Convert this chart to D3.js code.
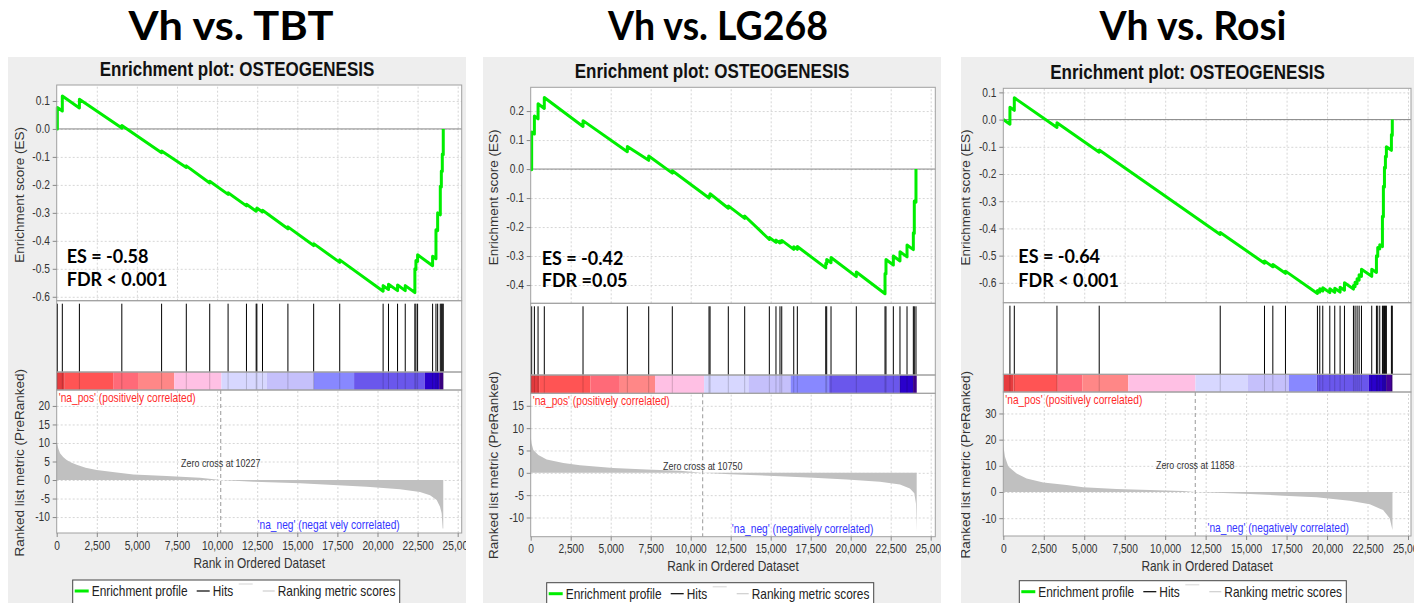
<!doctype html>
<html>
<head>
<meta charset="utf-8">
<title>Enrichment plots OSTEOGENESIS</title>
<script src="https://cdn.jsdelivr.net/npm/d3@7"></script>
<style>
html,body{margin:0;padding:0;background:#fff;}
svg{display:block;}
</style>
</head>
<body>
<svg id="chart" width="1428" height="603"></svg>
<script>
// values
var titles = ["Vh vs. TBT", "Vh vs. LG268", "Vh vs. Rosi"];
var plotTitle = "Enrichment plot: OSTEOGENESIS";
var esLabels = ["ES = -0.58", "ES = -0.42", "ES = -0.64"];
var fdrLabels = ["FDR < 0.001", "FDR =0.05", "FDR < 0.001"];
var zeroCross = [10227, 10750, 11858];
var negLabels = ["'na_neg' (negat vely correlated)", "'na_neg' (negatively correlated)", "'na_neg' (negatively correlated)"];
var posLabel = "'na_pos' (positively correlated)";

var rankTicks = [0, 2500, 5000, 7500, 10000, 12500, 15000, 17500, 20000, 22500, 25000];
var esTicks = [
  [0.1, 0, -0.1, -0.2, -0.3, -0.4, -0.5, -0.6],
  [0.2, 0.1, 0, -0.1, -0.2, -0.3, -0.4],
  [0.1, 0, -0.1, -0.2, -0.3, -0.4, -0.5, -0.6]
];
var esDomains = [[-0.614, 0.157], [-0.463, 0.282], [-0.673, 0.115]];
var metricTicks = [
  [20, 15, 10, 5, 0, -5, -10],
  [15, 10, 5, 0, -5, -10],
  [30, 20, 10, 0, -10]
];
var metricDomains = [[-14.3, 24.3], [-14.3, 17.8], [-16.8, 38.2]];

// hits (rank positions of gene set members)
var hits1 = [40, 350, 1415, 4060, 6540, 8080, 9540, 10685, 11830, 12435, 12480, 12830, 14415, 16020, 17645,
  20350, 20685, 21250, 21730, 22330, 22395, 22500, 23435, 23645, 23750, 23915, 23980, 24040, 24100];
var hits2 = [60, 230, 460, 850, 3270, 6040, 7375, 8850, 11145, 11210, 12350, 13375, 14915, 15330, 15580, 15690,
  16440, 16665, 18440, 18500, 18770, 20350, 22145, 22205, 22665, 23080, 23520, 23915, 23975, 24080];
var hits3 = [410, 680, 3315, 5925, 13400, 16135, 16650, 17430, 19405, 19550, 19735, 20170, 20475, 20805, 21075,
  21630, 21730, 21855, 21980, 22125, 22760, 23050, 23130, 23255, 23420, 23480, 23545, 23605, 23665, 23975, 24030];

// running enrichment score [rank, ES]
var es1 = [[0,0],[40,0],[40,0.077],[350,0.064],[350,0.118],[1415,0.075],[1415,0.106],[4060,0.003],[4060,0.012],
  [6540,-0.085],[6540,-0.079],[8080,-0.138],[8080,-0.132],[9540,-0.193],[9540,-0.187],[10685,-0.234],[10685,-0.228],
  [11830,-0.275],[11830,-0.269],[12435,-0.294],[12435,-0.288],[12480,-0.29],[12480,-0.283],[12830,-0.297],[12830,-0.291],
  [14415,-0.357],[14415,-0.35],[16020,-0.417],[16020,-0.41],[17645,-0.477],[17645,-0.468],[20350,-0.58],[20350,-0.56],
  [20685,-0.574],[20685,-0.555],[21250,-0.578],[21250,-0.558],[21730,-0.578],[21730,-0.56],[22330,-0.585],[22330,-0.5],
  [22395,-0.503],[22395,-0.47],[22500,-0.474],[22500,-0.45],[23435,-0.489],[23435,-0.455],[23645,-0.464],[23645,-0.36],
  [23750,-0.364],[23750,-0.3],[23915,-0.307],[23915,-0.205],[23980,-0.208],[23980,-0.15],[24040,-0.152],[24040,-0.09],
  [24100,-0.092],[24100,0]];
var es2 = [[0,0],[60,-0.002],[60,0.128],[230,0.121],[230,0.183],[460,0.173],[460,0.225],[850,0.209],[850,0.247],
  [3270,0.147],[3270,0.167],[6040,0.06],[6040,0.078],[7375,0.03],[7375,0.045],[8850,-0.014],[8850,-0.006],
  [11145,-0.1],[11145,-0.092],[11210,-0.095],[11210,-0.085],[12350,-0.135],[12350,-0.127],[13375,-0.17],[13375,-0.162],
  [14915,-0.243],[14915,-0.236],[15330,-0.253],[15330,-0.245],[15580,-0.255],[15580,-0.248],[15690,-0.253],[15690,-0.246],
  [16440,-0.277],[16440,-0.268],[16665,-0.277],[16665,-0.267],[18440,-0.341],[18440,-0.325],[18500,-0.327],[18500,-0.312],
  [18770,-0.323],[18770,-0.305],[20350,-0.371],[20350,-0.355],[22145,-0.43],[22145,-0.36],[22205,-0.362],[22205,-0.312],
  [22665,-0.331],[22665,-0.3],[23080,-0.317],[23080,-0.285],[23520,-0.303],[23520,-0.262],[23915,-0.278],[23915,-0.22],
  [23975,-0.222],[23975,-0.11],[24080,-0.114],[24080,0]];
var es3 = [[0,0],[410,-0.017],[410,0.045],[680,0.034],[680,0.08],[3315,-0.029],[3315,-0.012],[5925,-0.12],[5925,-0.112],
  [13400,-0.422],[13400,-0.415],[16135,-0.528],[16135,-0.52],[16650,-0.541],[16650,-0.533],[17430,-0.565],[17430,-0.557],
  [19405,-0.639],[19405,-0.628],[19550,-0.634],[19550,-0.622],[19735,-0.63],[19735,-0.618],[20170,-0.636],[20170,-0.622],
  [20475,-0.635],[20475,-0.62],[20805,-0.634],[20805,-0.616],[21075,-0.627],[21075,-0.6],[21630,-0.623],[21630,-0.61],
  [21730,-0.614],[21730,-0.598],[21855,-0.603],[21855,-0.585],[21980,-0.59],[21980,-0.57],[22125,-0.576],[22125,-0.55],
  [22760,-0.576],[22760,-0.55],[23050,-0.562],[23050,-0.5],[23130,-0.503],[23130,-0.47],[23255,-0.475],[23255,-0.46],
  [23420,-0.467],[23420,-0.355],[23480,-0.357],[23480,-0.245],[23545,-0.248],[23545,-0.175],[23605,-0.178],[23605,-0.135],
  [23665,-0.137],[23665,-0.1],[23975,-0.113],[23975,-0.055],[24030,-0.058],[24030,0]];

// ranked list metric [rank, value]
var metric1 = [[0,10.4],[100,8.5],[208,7.2],[400,6.2],[623,5.4],[900,4.7],[1247,4.1],[1800,3.3],[2494,2.7],[3740,2.0],
  [4780,1.5],[6858,1.1],[8936,0.6],[10227,0],[12261,-0.45],[15170,-0.9],[17248,-1.35],[19326,-1.8],[21404,-2.5],
  [22650,-3.2],[23274,-4.1],[23690,-5.4],[23898,-7.2],[24000,-9],[24064,-13.1],[24100,-13.1]];
var metric2 = [[0,8.1],[60,6.5],[166,5.1],[479,4.0],[1000,3.0],[2040,2.2],[3080,1.7],[5160,1.1],[7245,0.75],[9330,0.45],
  [10750,0],[12455,-0.3],[15580,-0.75],[17665,-1.1],[19745,-1.5],[21830,-2.0],[23080,-2.6],[23700,-3.5],[23975,-4.6],
  [24080,-6.9],[24125,-13.2]];
var metric3 = [[0,18],[103,13.5],[309,9.7],[823,7.1],[1440,5.2],[2470,3.6],[3910,2.7],[4940,1.8],[6995,1.15],[9050,0.77],
  [11110,0.4],[11858,0],[13170,-0.25],[15230,-0.76],[17290,-1.4],[19345,-2.0],[21400,-3.3],[22640,-4.7],[23460,-6.9],
  [23870,-10],[24040,-14.5]];

// colour bar: end rank of each band
var bandEnds1 = [500, 3520, 5070, 7330, 10270, 13090, 16030, 18540, 22940, 23840, 24100];
var bandEnds2 = [525, 3740, 5570, 7770, 10840, 13610, 16240, 18650, 23060, 23900, 24125];
var bandEnds3 = [630, 3365, 4880, 7720, 11870, 15090, 17640, 19360, 22570, 23650, 24030];
var bandColors = ["#e63c3f", "#ff5454", "#ff6a78", "#ff8787", "#ffc0e4", "#d7d7ff", "#c5c0fb", "#8888ff", "#6a57ec", "#2a00cc", "#45009a"];

var esAll = [es1, es2, es3];
var hitsAll = [hits1, hits2, hits3];
var metricAll = [metric1, metric2, metric3];
var bandsAll = [bandEnds1, bandEnds2, bandEnds3];

// layout of the three GSEA panels (pixels)
var lay = [
  {bgL: 8, bgR: 466, bgT: 57, L: 56.7, R: 461.7, x25: 457.7, esTop: 85, hitTop: 300.7, barTop: 372, metTop: 390, metBot: 533, titleX: 231, annX: 10, esY: 263, fdrY: 286, legTop: 580},
  {bgL: 483, bgR: 941, bgT: 57, L: 530.7, R: 935.3, x25: 930.7, esTop: 87.3, hitTop: 303.3, barTop: 375, metTop: 393.3, metBot: 536.7, titleX: 718, annX: 11, esY: 265, fdrY: 287, legTop: 582.7},
  {bgL: 961, bgR: 1414, bgT: 57, L: 1003.3, R: 1411, x25: 1408, esTop: 88.3, hitTop: 302.7, barTop: 374.3, metTop: 392, metBot: 536, titleX: 1193, annX: 15, esY: 263, fdrY: 286.5, legTop: 580.7}
];
var titleWidths = [205, 220, 187];

var svg = d3.select("#chart");
var SX = 0.85;
var FONT = "'Liberation Sans', Arial, sans-serif";
var defs = svg.append("defs");

function txt(g, x, y, s, o) {
  o = o || {};
  return g.append("text")
    .attr("transform", "translate(" + x + "," + y + ") scale(" + (o.sx || SX) + ",1)")
    .attr("text-anchor", o.anchor || "start")
    .attr("font-family", o.font || FONT)
    .attr("font-size", o.size || 12)
    .attr("font-weight", o.weight || "normal")
    .attr("fill", o.fill || "#222")
    .text(s);
}

function gridStyle(sel) {
  sel.select(".domain").remove();
  sel.selectAll("line").attr("stroke", "#d6d6d6").attr("stroke-dasharray", "2,2");
}

function axisStyle(sel) {
  sel.select(".domain").remove();
  sel.selectAll("line").attr("stroke", "#888");
  sel.selectAll("text").attr("font-family", FONT).attr("font-size", 12).attr("fill", "#333")
    .attr("transform", "scale(" + SX + ",1)");
}

lay.forEach(function(p, i) {
  // big heading above panel
  svg.append("text").attr("x", p.titleX).attr("y", 40)
    .attr("text-anchor", "middle").attr("font-family", "Lato, 'Open Sans', sans-serif")
    .attr("font-weight", "bold").attr("font-size", 40)
    .attr("textLength", titleWidths[i]).attr("lengthAdjust", "spacingAndGlyphs")
    .attr("fill", "#000").text(titles[i]);

  defs.append("clipPath").attr("id", "clip" + i).append("rect")
    .attr("x", p.bgL).attr("y", p.bgT).attr("width", p.bgR - p.bgL).attr("height", 603 - p.bgT);
  var g = svg.append("g").attr("clip-path", "url(#clip" + i + ")");
  g.append("rect").attr("x", p.bgL).attr("y", p.bgT).attr("width", p.bgR - p.bgL).attr("height", 603 - p.bgT)
    .attr("fill", "#eeeeee");

  var w = p.R - p.L;
  var x = d3.scaleLinear().domain([0, 25000]).range([p.L, p.x25]);
  var yEs = d3.scaleLinear().domain(esDomains[i]).range([p.hitTop, p.esTop]);
  var yMet = d3.scaleLinear().domain(metricDomains[i]).range([p.metBot, p.metTop]);

  // white plot areas
  [[p.esTop, p.hitTop], [p.hitTop, p.barTop], [p.barTop, p.metTop], [p.metTop, p.metBot]].forEach(function(r) {
    g.append("rect").attr("x", p.L).attr("y", r[0]).attr("width", w).attr("height", r[1] - r[0]).attr("fill", "#fff");
  });

  // grids
  g.append("g").attr("transform", "translate(0," + p.hitTop + ")")
    .call(d3.axisBottom(x).tickValues(rankTicks.slice(1)).tickSize(-(p.hitTop - p.esTop)).tickFormat(""))
    .call(gridStyle);
  g.append("g").attr("transform", "translate(" + p.L + ",0)")
    .call(d3.axisLeft(yEs).tickValues(esTicks[i]).tickSize(-w).tickFormat(""))
    .call(gridStyle);
  g.append("g").attr("transform", "translate(0," + p.metBot + ")")
    .call(d3.axisBottom(x).tickValues(rankTicks.slice(1)).tickSize(-(p.metBot - p.metTop)).tickFormat(""))
    .call(gridStyle);
  g.append("g").attr("transform", "translate(" + p.L + ",0)")
    .call(d3.axisLeft(yMet).tickValues(metricTicks[i]).tickSize(-w).tickFormat(""))
    .call(gridStyle);

  // zero line of ES
  g.append("line").attr("x1", p.L).attr("x2", p.R).attr("y1", yEs(0)).attr("y2", yEs(0))
    .attr("stroke", "#888").attr("stroke-width", 1);

  // ranked metric area
  var area = d3.area().x(function(d) { return x(d[0]); }).y0(yMet(0)).y1(function(d) { return yMet(d[1]); });
  g.append("path").datum(metricAll[i]).attr("d", area).attr("fill", "#c0c0c0");

  // zero cross line
  g.append("line").attr("x1", x(zeroCross[i])).attr("x2", x(zeroCross[i]))
    .attr("y1", p.metTop).attr("y2", p.metBot)
    .attr("stroke", "#999").attr("stroke-dasharray", "4,3");

  // colour bar
  var prev = 0;
  bandsAll[i].forEach(function(e, k) {
    g.append("rect").attr("x", x(prev)).attr("y", p.barTop)
      .attr("width", x(e) - x(prev)).attr("height", p.metTop - p.barTop)
      .attr("fill", bandColors[k]);
    prev = e;
  });

  // hits
  g.selectAll(null).data(hitsAll[i]).enter().append("line")
    .attr("x1", function(d) { return x(d); }).attr("x2", function(d) { return x(d); })
    .attr("y1", p.hitTop + 3).attr("y2", p.barTop)
    .attr("stroke", "#000").attr("stroke-width", 1);
  g.selectAll(null).data(hitsAll[i]).enter().append("line")
    .attr("x1", function(d) { return x(d); }).attr("x2", function(d) { return x(d); })
    .attr("y1", p.barTop).attr("y2", p.metTop)
    .attr("stroke", "#000").attr("stroke-opacity", 0.18).attr("stroke-width", 1);

  // running ES
  var line = d3.line().x(function(d) { return x(d[0]); }).y(function(d) { return yEs(d[1]); });
  g.append("path").datum(esAll[i]).attr("d", line)
    .attr("fill", "none").attr("stroke", "#00ee00").attr("stroke-width", 3).attr("stroke-linejoin", "round");

  // frames
  [[p.esTop, p.hitTop], [p.hitTop, p.barTop], [p.barTop, p.metTop], [p.metTop, p.metBot]].forEach(function(r) {
    g.append("rect").attr("x", p.L).attr("y", r[0]).attr("width", w).attr("height", r[1] - r[0])
      .attr("fill", "none").attr("stroke", "#a0a0a0").attr("stroke-width", 1);
  });

  // axes
  g.append("g").attr("transform", "translate(" + p.L + ",0)")
    .call(d3.axisLeft(yEs).tickValues(esTicks[i]).tickSize(4).tickPadding(4)
      .tickFormat(function(d) { return d.toFixed(1); }))
    .call(axisStyle);
  g.append("g").attr("transform", "translate(" + p.L + ",0)")
    .call(d3.axisLeft(yMet).tickValues(metricTicks[i]).tickSize(4).tickPadding(4)
      .tickFormat(function(d) { return String(d); }))
    .call(axisStyle);
  g.append("g").attr("transform", "translate(0," + p.metBot + ")")
    .call(d3.axisBottom(x).tickValues(rankTicks).tickSize(4).tickPadding(4).tickFormat(d3.format(",")))
    .call(axisStyle);

  // texts
  var cx = (p.bgL + p.bgR) / 2;
  txt(g, cx, p.esTop - 9.5, plotTitle, {anchor: "middle", size: 20, weight: "bold", fill: "#111"});
  g.append("text").attr("transform", "translate(" + (p.L - 33) + "," + ((p.esTop + p.hitTop) / 2 + 2) + ") rotate(-90)")
    .attr("text-anchor", "middle").attr("font-family", FONT).attr("font-size", 13.5).attr("fill", "#333")
    .text("Enrichment score (ES)");
  g.append("text").attr("transform", "translate(" + (p.L - 33) + "," + (p.hitTop + 162) + ") rotate(-90)")
    .attr("text-anchor", "middle").attr("font-family", FONT).attr("font-size", 13.5).attr("fill", "#333")
    .text("Ranked list metric (PreRanked)");
  txt(g, (p.L + p.R) / 2, p.metBot + 34.5, "Rank in Ordered Dataset", {anchor: "middle", size: 14, fill: "#333"});
  txt(g, p.L + 2, p.metTop + 11.5, posLabel, {size: 12, fill: "#ff2a2a"});
  txt(g, p.R - 62, p.metBot - 4, negLabels[i], {anchor: "end", size: 12, fill: "#3535ff"});
  txt(g, x(zeroCross[i]), p.metTop + 76.5, "Zero cross at " + zeroCross[i], {anchor: "middle", size: 10.5, fill: "#333"});

  txt(g, p.L + p.annX, p.esY, esLabels[i], {sx: 1, size: 18, weight: "bold", fill: "#000", font: "Lato, 'Open Sans', sans-serif"});
  txt(g, p.L + p.annX, p.fdrY, fdrLabels[i], {sx: 1, size: 18, weight: "bold", fill: "#000", font: "Lato, 'Open Sans', sans-serif"});

  // legend
  var lx = p.L + 16, ly = p.legTop;
  g.append("rect").attr("x", lx).attr("y", ly).attr("width", 327).attr("height", 40)
    .attr("fill", "#fff").attr("stroke", "#444").attr("stroke-width", 1);
  var my = ly + 11;
  g.append("line").attr("x1", lx + 2).attr("x2", lx + 16).attr("y1", my).attr("y2", my).attr("stroke", "#00ee00").attr("stroke-width", 3);
  txt(g, lx + 19, ly + 16, "Enrichment profile", {size: 14, fill: "#222"});
  g.append("line").attr("x1", lx + 124).attr("x2", lx + 137).attr("y1", my).attr("y2", my).attr("stroke", "#000").attr("stroke-width", 1.2);
  txt(g, lx + 140, ly + 16, "Hits", {size: 14, fill: "#222"});
  g.append("line").attr("x1", lx + 166).attr("x2", lx + 180).attr("y1", ly + 4).attr("y2", ly + 4).attr("stroke", "#e2e2e2").attr("stroke-width", 1.5);
  g.append("line").attr("x1", lx + 190).attr("x2", lx + 202).attr("y1", my).attr("y2", my).attr("stroke", "#cfcfcf").attr("stroke-width", 1.2);
  txt(g, lx + 205, ly + 16, "Ranking metric scores", {size: 14, fill: "#222"});
});
</script>
</body>
</html>
